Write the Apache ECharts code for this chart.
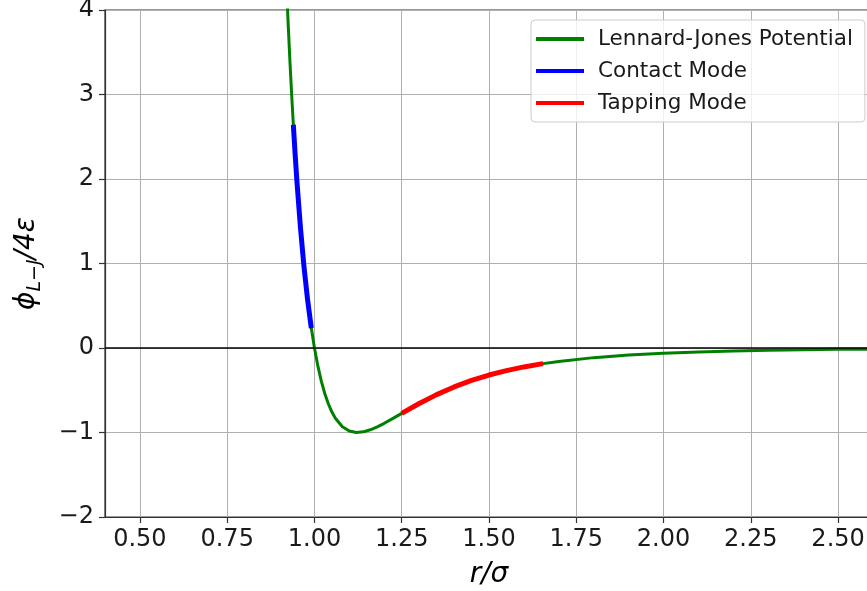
<!DOCTYPE html>
<html>
<head>
<meta charset="utf-8">
<script src="https://cdn.jsdelivr.net/npm/echarts@6/dist/echarts.min.js"></script>
<style>
  html, body { margin: 0; padding: 0; background: #fff; }
  #chart { width: 867px; height: 591px; }
</style>
</head>
<body>
<div id="chart"></div>
<script>
// Lennard-Jones potential, reduced units: r/sigma and phi/4eps
const ljR = [0.92, 0.925, 0.93, 0.935, 0.94, 0.945, 0.95, 0.96, 0.97, 0.98, 0.99, 1.00,
  1.01, 1.02, 1.03, 1.04, 1.05, 1.06, 1.08, 1.10, 1.12, 1.14, 1.16, 1.18, 1.20, 1.22,
  1.25, 1.30, 1.35, 1.40, 1.45, 1.50, 1.55, 1.60, 1.65, 1.70, 1.80, 1.90, 2.00, 2.10,
  2.20, 2.30, 2.40, 2.50, 2.60];
const ljPhi = [4.283, 3.809, 3.373, 2.974, 2.607, 2.270, 1.961, 1.418, 0.963, 0.582, 0.264, 0.000,
  -0.218, -0.398, -0.544, -0.663, -0.758, -0.832, -0.932, -0.983, -1.000, -0.992, -0.968, -0.933, -0.891, -0.845,
  -0.774, -0.657, -0.552, -0.461, -0.384, -0.320, -0.268, -0.224, -0.188, -0.159, -0.114, -0.083, -0.062, -0.046,
  -0.035, -0.027, -0.021, -0.016, -0.013];

// Repulsive branch probed in contact mode
const contactR = [0.9395, 0.945, 0.95, 0.96, 0.97, 0.98, 0.99, 0.991];
const contactPhi = [2.642, 2.270, 1.961, 1.418, 0.963, 0.582, 0.264, 0.235];

// Attractive branch probed in tapping mode
const tappingR = [1.25, 1.30, 1.35, 1.40, 1.45, 1.50, 1.55, 1.60, 1.65, 1.655];
const tappingPhi = [-0.774, -0.657, -0.552, -0.461, -0.384, -0.320, -0.268, -0.224, -0.188, -0.186];

const xTicks = [0.5, 0.75, 1.0, 1.25, 1.5, 1.75, 2.0, 2.25, 2.5];

const zip = (xs, ys) => xs.map((x, i) => [x, ys[i]]);
const FONT = 'DejaVu Sans';

const chart = echarts.init(document.getElementById('chart'), null, { renderer: 'canvas' });
chart.setOption({
  animation: false,
  backgroundColor: '#ffffff',
  grid: {
    left: 105, top: 10, right: -6, bottom: 74,
    outerBoundsMode: 'none', containLabel: false,
    show: true, borderColor: '#333333', borderWidth: 1.2, backgroundColor: 'transparent'
  },
  legend: {
    orient: 'vertical',
    left: 531, top: 20,
    padding: [7, 12, 7, 5],
    itemWidth: 48, itemHeight: 4, itemGap: 8,
    icon: 'rect',
    backgroundColor: 'rgba(255,255,255,0.8)',
    borderColor: '#cccccc', borderWidth: 1, borderRadius: 4,
    textStyle: { fontFamily: FONT, fontSize: 21.5, color: '#1a1a1a', lineHeight: 24, padding: [0, 0, 0, 9] },
    data: ['Lennard-Jones Potential', 'Contact Mode', 'Tapping Mode']
  },
  xAxis: {
    type: 'value', min: 0.4, max: 2.6,
    name: 'r/σ', nameLocation: 'middle', nameGap: 44,
    nameTextStyle: { fontFamily: FONT, fontStyle: 'italic', fontSize: 28, color: '#000' },
    axisLine: { show: true, onZero: false, lineStyle: { color: '#333333', width: 1.2 } },
    axisTick: { show: true, length: 6, customValues: xTicks, lineStyle: { color: '#333333', width: 1.2 } },
    axisLabel: {
      customValues: xTicks, margin: 11,
      fontFamily: FONT, fontSize: 24, color: '#1a1a1a',
      formatter: v => v.toFixed(2)
    },
    splitLine: { show: true, lineStyle: { color: '#b0b0b0', width: 1 } }
  },
  yAxis: {
    type: 'value', min: -2, max: 4, interval: 1,
    name: '{a|ϕ}{s|L−J}{a|/4ε}', nameLocation: 'middle', nameGap: 60, nameRotate: 90,
    nameTextStyle: {
      rich: {
        a: { fontFamily: FONT, fontStyle: 'italic', fontSize: 28, color: '#000', lineHeight: 36, verticalAlign: 'middle' },
        s: { fontFamily: FONT, fontStyle: 'italic', fontSize: 19, color: '#000', lineHeight: 36, verticalAlign: 'bottom', padding: [14, 0, 0, 0] }
      }
    },
    axisLine: { show: true, onZero: false, lineStyle: { color: '#333333', width: 1.2 } },
    axisTick: { show: true, length: 6, lineStyle: { color: '#333333', width: 1.2 } },
    axisLabel: {
      margin: 11, fontFamily: FONT, fontSize: 24, color: '#1a1a1a',
      formatter: v => String(v).replace('-', '\u2212')
    },
    splitLine: { show: true, lineStyle: { color: '#b0b0b0', width: 1 } }
  },
  series: [
    {
      name: 'Lennard-Jones Potential', type: 'line', data: zip(ljR, ljPhi),
      showSymbol: false, symbol: 'none', smooth: false,
      lineStyle: { color: '#008000', width: 3, join: 'round' }, itemStyle: { color: '#008000' },
      clip: true, z: 3,
      markLine: {
        silent: true, symbol: 'none', label: { show: false },
        lineStyle: { color: '#000000', width: 1.6, type: 'solid' },
        data: [{ yAxis: 0 }]
      }
    },
    {
      name: 'Contact Mode', type: 'line', data: zip(contactR, contactPhi),
      showSymbol: false, symbol: 'none', smooth: false,
      lineStyle: { color: '#0000ff', width: 5, join: 'round' }, itemStyle: { color: '#0000ff' }, z: 4
    },
    {
      name: 'Tapping Mode', type: 'line', data: zip(tappingR, tappingPhi),
      showSymbol: false, symbol: 'none', smooth: false,
      lineStyle: { color: '#ff0000', width: 5, join: 'round' }, itemStyle: { color: '#ff0000' }, z: 4
    }
  ]
});
</script>
</body>
</html>
